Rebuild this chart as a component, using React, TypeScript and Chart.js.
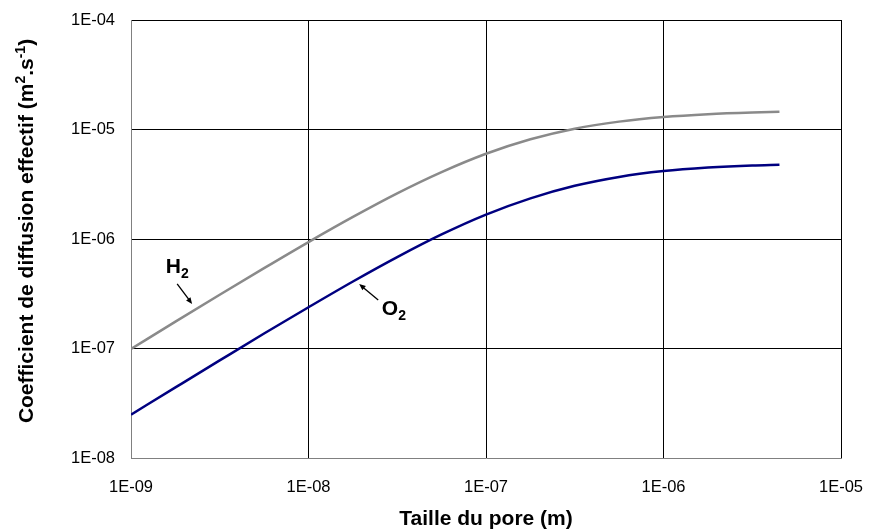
import React, { useEffect, useRef } from "react";
import { Chart, registerables } from "chart.js";

Chart.register(...registerables);

// Pore size (m)
const poreSize = [
  1e-9, 1.78e-9, 3.16e-9, 5.62e-9, 1e-8, 1.78e-8, 3.16e-8, 5.62e-8,
  1e-7, 1.78e-7, 3.16e-7, 5.62e-7, 1e-6, 1.78e-6, 3.16e-6, 4.5e-6,
];
// Effective diffusion coefficient H2 (m2/s)
const h2Values = [
  9.9e-8, 1.76e-7, 3.1e-7, 5.42e-7, 9.38e-7, 1.59e-6, 2.61e-6, 4.08e-6,
  6.0e-6, 8.14e-6, 1.017e-5, 1.18e-5, 1.3e-5, 1.38e-5, 1.43e-5, 1.45e-5,
];
// Effective diffusion coefficient O2 (m2/s)
const o2Values = [
  2.49e-8, 4.41e-8, 7.78e-8, 1.37e-7, 2.38e-7, 4.09e-7, 6.83e-7, 1.1e-6,
  1.67e-6, 2.35e-6, 3.06e-6, 3.69e-6, 4.17e-6, 4.49e-6, 4.7e-6, 4.77e-6,
];

const xTicks = [1e-9, 1e-8, 1e-7, 1e-6, 1e-5];
const xTickLabels = ["1E-09", "1E-08", "1E-07", "1E-06", "1E-05"];
const yTicks = [1e-8, 1e-7, 1e-6, 1e-5, 1e-4];
const yTickLabels = ["1E-08", "1E-07", "1E-06", "1E-05", "1E-04"];

const xTitle = "Taille du pore (m)";

// Curve annotations (data coordinates)
const annotations = [
  { text: "H", sub: "2", at: [1.57e-9, 4.9e-7], from: [1.82e-9, 3.9e-7], to: [2.21e-9, 2.55e-7] },
  { text: "O", sub: "2", at: [2.59e-8, 2.02e-7], from: [2.47e-8, 2.77e-7], to: [1.93e-8, 3.88e-7] },
];

const FONT = "'Liberation Sans', Arial, sans-serif";

function drawArrow(ctx: CanvasRenderingContext2D, x1: number, y1: number, x2: number, y2: number) {
  const ang = Math.atan2(y2 - y1, x2 - x1);
  const head = 7;
  ctx.beginPath();
  ctx.moveTo(x1, y1);
  ctx.lineTo(x2 - Math.cos(ang) * head * 0.8, y2 - Math.sin(ang) * head * 0.8);
  ctx.stroke();
  ctx.beginPath();
  ctx.moveTo(x2, y2);
  ctx.lineTo(x2 - head * Math.cos(ang - 0.4), y2 - head * Math.sin(ang - 0.4));
  ctx.lineTo(x2 - head * Math.cos(ang + 0.4), y2 - head * Math.sin(ang + 0.4));
  ctx.closePath();
  ctx.fill();
}

const overlayPlugin = {
  id: "overlay",
  afterDraw(chart: any) {
    const ctx: CanvasRenderingContext2D = chart.ctx;
    const xs = chart.scales.x;
    const ys = chart.scales.y;
    const area = chart.chartArea;
    ctx.save();
    ctx.fillStyle = "#000";
    ctx.strokeStyle = "#000";
    ctx.lineWidth = 1.3;

    // annotations
    for (const a of annotations) {
      const px = xs.getPixelForValue(a.at[0]);
      const py = ys.getPixelForValue(a.at[1]);
      ctx.textAlign = "left";
      ctx.textBaseline = "alphabetic";
      ctx.font = `bold 21px ${FONT}`;
      ctx.fillText(a.text, px, py);
      const w = ctx.measureText(a.text).width;
      ctx.font = `bold 14px ${FONT}`;
      ctx.fillText(a.sub, px + w, py + 5);
      drawArrow(
        ctx,
        xs.getPixelForValue(a.from[0]), ys.getPixelForValue(a.from[1]),
        xs.getPixelForValue(a.to[0]), ys.getPixelForValue(a.to[1])
      );
    }

    // x title
    ctx.font = `bold 21px ${FONT}`;
    ctx.textAlign = "center";
    ctx.textBaseline = "middle";
    ctx.fillText(xTitle, (area.left + area.right) / 2, chart.height - 11);

    // y title with superscripts
    const parts: [string, boolean][] = [
      ["Coefficient de diffusion effectif (m", false],
      ["2", true],
      [".s", false],
      ["-1", true],
      [")", false],
    ];
    const big = `bold 21px ${FONT}`;
    const small = `bold 14px ${FONT}`;
    let total = 0;
    const widths: number[] = [];
    for (const [t, sup] of parts) {
      ctx.font = sup ? small : big;
      const w = ctx.measureText(t).width;
      widths.push(w);
      total += w;
    }
    ctx.translate(33, (area.top + area.bottom) / 2 - 8);
    ctx.rotate(-Math.PI / 2);
    ctx.textAlign = "left";
    ctx.textBaseline = "alphabetic";
    let cx = -total / 2;
    parts.forEach(([t, sup], i) => {
      ctx.font = sup ? small : big;
      ctx.fillText(t, cx, sup ? -8 : 0);
      cx += widths[i];
    });
    ctx.restore();
  },
};

export default function App() {
  const ref = useRef<HTMLCanvasElement | null>(null);

  useEffect(() => {
    document.body.style.margin = "0";
    const canvas = ref.current;
    if (!canvas) return;
    const chart = new Chart(canvas, {
      type: "line",
      data: {
        datasets: [
          {
            label: "H2",
            data: poreSize.map((x, i) => ({ x, y: h2Values[i] })),
            borderColor: "#8a8a8a",
            borderWidth: 2.5,
            pointRadius: 0,
            cubicInterpolationMode: "monotone",
          },
          {
            label: "O2",
            data: poreSize.map((x, i) => ({ x, y: o2Values[i] })),
            borderColor: "#000080",
            borderWidth: 2.5,
            pointRadius: 0,
            cubicInterpolationMode: "monotone",
          },
        ],
      },
      options: {
        animation: false,
        responsive: true,
        maintainAspectRatio: false,
        layout: { padding: { top: 20, right: 29, left: 0, bottom: 0 } },
        plugins: { legend: { display: false }, tooltip: { enabled: false } },
        scales: {
          x: {
            type: "logarithmic",
            min: 1e-9,
            max: 1e-5,
            afterBuildTicks: (s: any) => {
              s.ticks = xTicks.map((v) => ({ value: v }));
            },
            afterFit: (s: any) => {
              s.height = 72;
              s.paddingLeft = 0;
              s.paddingRight = 0;
            },
            ticks: {
              autoSkip: false,
              maxRotation: 0,
              padding: 20,
              color: "#000",
              font: { family: FONT, size: 16.5 },
              callback: (v: any) => {
                const i = xTicks.findIndex((t) => Math.abs(t - v) / t < 1e-6);
                return i >= 0 ? xTickLabels[i] : "";
              },
            },
            grid: {
              drawTicks: false,
              color: (c: any) => (c.index === 0 ? "rgba(0,0,0,0)" : "#000"),
              lineWidth: 1,
            },
            border: { color: "#808080", width: 1 },
          },
          y: {
            type: "logarithmic",
            min: 1e-8,
            max: 1e-4,
            afterBuildTicks: (s: any) => {
              s.ticks = yTicks.map((v) => ({ value: v }));
            },
            afterFit: (s: any) => {
              s.width = 131;
              s.paddingTop = 0;
              s.paddingBottom = 0;
            },
            ticks: {
              autoSkip: false,
              padding: 16,
              color: "#000",
              font: { family: FONT, size: 16.5 },
              callback: (v: any) => {
                const i = yTicks.findIndex((t) => Math.abs(t - v) / t < 1e-6);
                return i >= 0 ? yTickLabels[i] : "";
              },
            },
            grid: {
              drawTicks: false,
              color: (c: any) => (c.index === 0 ? "rgba(0,0,0,0)" : "#000"),
              lineWidth: 1,
            },
            border: { color: "#808080", width: 1 },
          },
        },
      },
      plugins: [overlayPlugin],
    } as any);
    return () => chart.destroy();
  }, []);

  return (
    <div style={{ width: 870, height: 530, position: "relative", background: "#fff" }}>
      <canvas ref={ref} />
    </div>
  );
}
